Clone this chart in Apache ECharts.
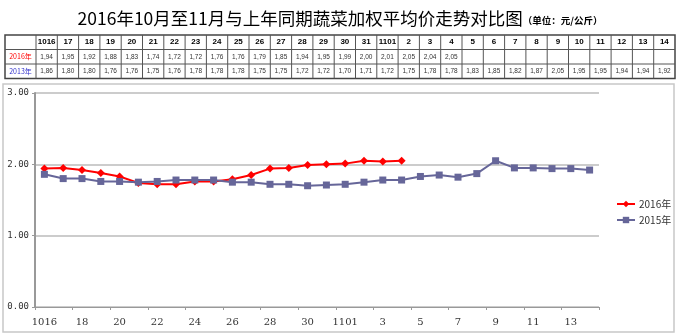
<!DOCTYPE html>
<html>
<head>
<meta charset="utf-8">
<script src="https://cdn.jsdelivr.net/npm/echarts@6/dist/echarts.min.js"></script>
<style>
  html, body { margin: 0; padding: 0; background: #fff; }
  #chart { width: 680px; height: 336px; }
</style>
</head>
<body>
<div id="chart"></div>
<script>
// Day labels: 16 Oct .. 14 Nov
const days = ['1016','17','18','19','20','21','22','23','24','25','26','27','28','29','30','31',
              '1101','2','3','4','5','6','7','8','9','10','11','12','13','14'];

// Weighted average vegetable price (yuan/kg)
const price2016 = [1.94,1.95,1.92,1.88,1.83,1.74,1.72,1.72,1.76,1.76,1.79,1.85,1.94,1.95,1.99,2.00,
                   2.01,2.05,2.04,2.05];
const price2015 = [1.86,1.80,1.80,1.76,1.76,1.75,1.76,1.78,1.78,1.78,1.75,1.75,1.72,1.72,1.70,1.71,
                   1.72,1.75,1.78,1.78,1.83,1.85,1.82,1.87,2.05,1.95,1.95,1.94,1.94,1.92];

const seriesNames = ['2016年', '2015年'];
const rowNames = ['2016年', '2013年'];
const yTicks = [0, 1, 2, 3];

const chart = echarts.init(document.getElementById('chart'), null, { renderer: 'canvas' });

// Data table above the plot
function buildTable() {
  const x0 = 5, x1 = 36, cw = 21.3, rows = [35, 49.5, 64, 78.5];
  const right = x1 + cw * days.length;
  const els = [];
  const lineStyle = { stroke: '#555', lineWidth: 1 };
  els.push({ type: 'rect', shape: { x: x0, y: rows[0], width: right - x0, height: rows[3] - rows[0] },
             style: { fill: '#fff', stroke: '#444', lineWidth: 1.5 } });
  for (let r = 1; r < 3; r++) {
    els.push({ type: 'line', shape: { x1: x0, y1: rows[r], x2: right, y2: rows[r] }, style: lineStyle });
  }
  for (let c = 0; c < days.length; c++) {
    const cx = x1 + cw * c;
    els.push({ type: 'line', shape: { x1: cx, y1: rows[0], x2: cx, y2: rows[3] }, style: lineStyle });
  }
  const rowColors = ['#ff0000', '#3333cc'];
  const vals = [price2016, price2015];
  for (let r = 0; r < 2; r++) {
    els.push({ type: 'text', x: (x0 + x1) / 2, y: (rows[r + 1] + rows[r + 2]) / 2,
      style: { text: rowNames[r], fill: rowColors[r], font: '7px "Noto Sans CJK SC"', align: 'center', verticalAlign: 'middle' } });
  }
  days.forEach((d, c) => {
    const cx = x1 + cw * c + cw / 2;
    els.push({ type: 'text', x: cx, y: (rows[0] + rows[1]) / 2,
      style: { text: d, fill: '#000', font: 'bold 8px "Liberation Sans"', align: 'center', verticalAlign: 'middle' } });
    for (let r = 0; r < 2; r++) {
      const v = vals[r][c];
      if (v == null) continue;
      els.push({ type: 'text', x: cx, y: (rows[r + 1] + rows[r + 2]) / 2,
        style: { text: v.toFixed(2).replace('.', ','), fill: '#333', font: '6.5px "Liberation Sans"', align: 'center', verticalAlign: 'middle' } });
    }
  });
  return els;
}

const graphics = buildTable();
// Frame around the plot region
graphics.unshift({ type: 'rect', shape: { x: 3, y: 84, width: 671, height: 248 },
  style: { fill: 'none', stroke: '#c8c8c8', lineWidth: 1.5 } });

chart.setOption({
  animation: false,
  backgroundColor: '#fff',
  title: {
    text: '{a|2016年10月至11月与上年同期蔬菜加权平均价走势对比图}{b|（单位：元/公斤）}',
    left: 'center', top: 5,
    textStyle: {
      rich: {
        a: { fontSize: 17.5, fontFamily: '"Noto Sans CJK SC"', color: '#000', fontWeight: 'normal' },
        b: { fontSize: 9.5, fontFamily: '"Noto Sans CJK SC"', color: '#000', padding: [3, 0, 0, 0] }
      }
    }
  },
  graphic: graphics,
  legend: {
    orient: 'vertical', left: 611, top: 194, itemGap: 6,
    itemWidth: 18, itemHeight: 8,
    textStyle: { fontSize: 10, fontFamily: '"Noto Sans CJK SC"', color: '#333', padding: [0, 0, 0, -1] },
    data: seriesNames
  },
  grid: { left: 35, right: 81, top: 93, bottom: 29, containLabel: false },
  xAxis: {
    type: 'category', data: days, boundaryGap: true,
    axisLine: { lineStyle: { color: '#999', width: 1 } },
    axisTick: { show: true, length: 3, lineStyle: { color: '#999' } },
    axisLabel: { interval: 1, margin: 10, fontSize: 10, color: '#333', fontFamily: '"DejaVu Serif"' }
  },
  yAxis: {
    type: 'value', min: yTicks[0], max: yTicks[yTicks.length - 1], interval: 1,
    axisLine: { show: true, lineStyle: { color: '#999', width: 2 } },
    axisTick: { show: true, length: 3, lineStyle: { color: '#999' } },
    axisLabel: { formatter: v => v.toFixed(2), fontSize: 9, color: '#333', fontFamily: '"DejaVu Sans Mono"', margin: 6 },
    splitLine: { lineStyle: { color: '#bbb', width: 1.5 } }
  },
  series: [
    { name: seriesNames[0], type: 'line', data: price2016,
      symbol: 'diamond', symbolSize: 8,
      lineStyle: { color: '#ff0000', width: 2 }, itemStyle: { color: '#ff0000' } },
    { name: seriesNames[1], type: 'line', data: price2015,
      symbol: 'rect', symbolSize: 7,
      lineStyle: { color: '#666699', width: 2 }, itemStyle: { color: '#666699' } }
  ]
});
</script>
</body>
</html>
